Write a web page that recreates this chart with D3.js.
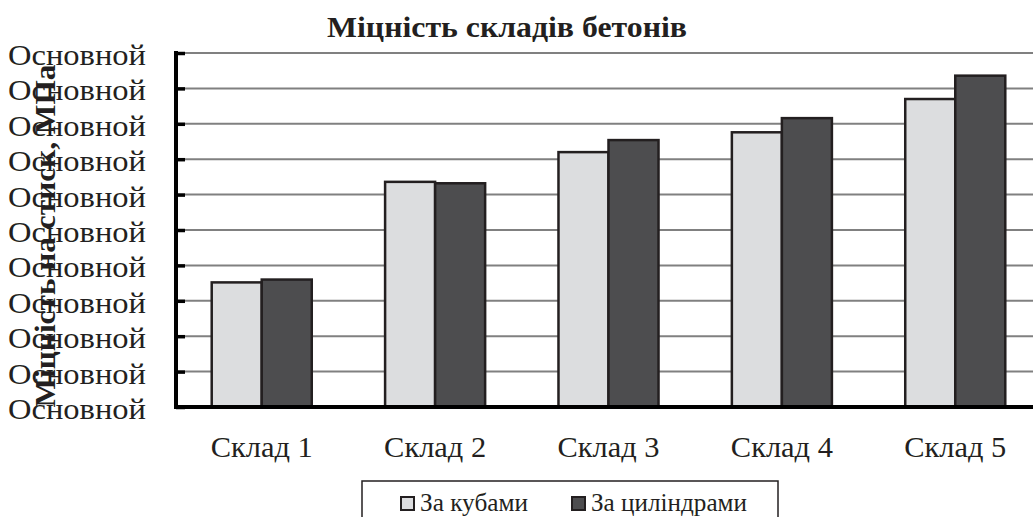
<!DOCTYPE html>
<html>
<head>
    <meta charset="utf-8">
    <title>Міцність складів бетонів</title>
    <script src="https://cdn.jsdelivr.net/npm/d3@7"></script>
    <style>
        body {
            margin: 0;
            padding: 0;
            background-color: white;
            overflow: hidden;
        }

        svg text {
            font-family: "Liberation Serif", "Times New Roman", serif;
            fill: #231f20;
        }

        .title {
            font-size: 30px;
            font-weight: bold;
        }

        .axis-label {
            font-size: 30px;
            font-weight: bold;
        }

        .tick-label {
            font-size: 29px;
        }

        .cat-label {
            font-size: 29px;
        }

        .legend-text {
            font-size: 25px;
        }
    </style>
</head>
<body>
    <div id="chart"></div>

    <script>
        const categories = ["Склад 1", "Склад 2", "Склад 3", "Склад 4", "Склад 5"];
        const seriesNames = ["За кубами", "За циліндрами"];
        const cubes = [17.6, 31.8, 36.0, 38.8, 43.5];
        const cylinders = [18.0, 31.6, 37.7, 40.8, 46.8];
        const yTicks = [0, 5, 10, 15, 20, 25, 30, 35, 40, 45, 50];
        const tickText = "Основной";
        const colors = ["#dcdddf", "#4d4d4f"];

        const width = 1033;
        const height = 517;
        const plotLeft = 176, plotTop = 53, plotBottom = 407;

        const svg = d3.select("#chart")
            .append("svg")
            .attr("width", width)
            .attr("height", height);

        const x = d3.scaleBand()
            .domain(categories)
            .range([plotLeft, 1041])
            .paddingInner(0.423)
            .paddingOuter(0.206);

        const xSub = d3.scaleBand()
            .domain(seriesNames)
            .range([0, x.bandwidth()]);

        const y = d3.scaleLinear()
            .domain([0, 50])
            .range([plotBottom, plotTop]);

        // gridlines
        svg.append("g")
            .selectAll("line")
            .data(yTicks.slice(1))
            .enter()
            .append("line")
            .attr("x1", plotLeft)
            .attr("x2", width)
            .attr("y1", d => y(d))
            .attr("y2", d => y(d))
            .style("stroke", "#808080")
            .style("stroke-width", "2px");

        // bars
        const rows = categories.map((c, i) => ({ cat: c, values: [cubes[i], cylinders[i]] }));

        svg.append("g")
            .selectAll("g")
            .data(rows)
            .enter()
            .append("g")
            .attr("transform", d => `translate(${x(d.cat)},0)`)
            .selectAll("rect")
            .data(d => d.values.map((v, j) => ({ name: seriesNames[j], value: v, j: j })))
            .enter()
            .append("rect")
            .attr("x", d => xSub(d.name))
            .attr("y", d => y(d.value))
            .attr("width", xSub.bandwidth())
            .attr("height", d => plotBottom - y(d.value))
            .attr("fill", d => colors[d.j])
            .style("stroke", "#231f20")
            .style("stroke-width", "2.5px");

        // y axis
        const yAxis = d3.axisRight(y)
            .tickValues(yTicks)
            .tickSize(9)
            .tickFormat("");

        const yg = svg.append("g")
            .attr("transform", `translate(${plotLeft},0)`)
            .call(yAxis);
        yg.select(".domain").remove();
        yg.selectAll(".tick line")
            .style("stroke", "#000")
            .style("stroke-width", "3.5px");

        svg.append("line")
            .attr("x1", plotLeft)
            .attr("x2", plotLeft)
            .attr("y1", plotTop - 2)
            .attr("y2", plotBottom + 2)
            .style("stroke", "#000")
            .style("stroke-width", "4px");

        svg.append("g")
            .selectAll("text")
            .data(yTicks)
            .enter()
            .append("text")
            .attr("class", "tick-label")
            .attr("x", 146)
            .attr("y", d => y(d) + 12)
            .attr("textLength", 138)
            .attr("lengthAdjust", "spacingAndGlyphs")
            .style("text-anchor", "end")
            .text(tickText);

        // x axis
        const xAxis = d3.axisBottom(x).tickSize(0).tickFormat("");
        const xg = svg.append("g")
            .attr("transform", `translate(0,${plotBottom})`)
            .call(xAxis);
        xg.select(".domain").remove();

        svg.append("line")
            .attr("x1", plotLeft - 2)
            .attr("x2", width)
            .attr("y1", plotBottom)
            .attr("y2", plotBottom)
            .style("stroke", "#000")
            .style("stroke-width", "4px");

        svg.append("g")
            .selectAll("text")
            .data(categories)
            .enter()
            .append("text")
            .attr("class", "cat-label")
            .attr("x", d => x(d) + x.bandwidth() / 2)
            .attr("y", 457)
            .attr("textLength", 102)
            .attr("lengthAdjust", "spacingAndGlyphs")
            .style("text-anchor", "middle")
            .text(d => d);

        // title
        svg.append("text")
            .attr("class", "title")
            .attr("x", 507)
            .attr("y", 37)
            .attr("textLength", 360)
            .attr("lengthAdjust", "spacingAndGlyphs")
            .style("text-anchor", "middle")
            .text("Міцність складів бетонів");

        // y axis title
        svg.append("text")
            .attr("class", "axis-label")
            .attr("transform", "translate(55,236) rotate(-90)")
            .attr("textLength", 343)
            .attr("lengthAdjust", "spacingAndGlyphs")
            .style("text-anchor", "middle")
            .text("Міцність на стиск, МПа");

        // legend
        const legend = svg.append("g");
        legend.append("rect")
            .attr("x", 362)
            .attr("y", 481)
            .attr("width", 416)
            .attr("height", 60)
            .attr("fill", "white")
            .style("stroke", "#231f20")
            .style("stroke-width", "1.5px");

        const legendX = [401, 572];
        const legendLen = [108, 156];
        const items = legend.selectAll(".item")
            .data(seriesNames)
            .enter()
            .append("g")
            .attr("class", "item")
            .attr("transform", (d, i) => `translate(${legendX[i]},497)`);

        items.append("rect")
            .attr("width", 13)
            .attr("height", 13)
            .attr("fill", (d, i) => colors[i])
            .style("stroke", "#231f20")
            .style("stroke-width", "2px");

        items.append("text")
            .attr("class", "legend-text")
            .attr("x", 19)
            .attr("y", 14)
            .attr("textLength", (d, i) => legendLen[i])
            .attr("lengthAdjust", "spacingAndGlyphs")
            .text(d => d);
    </script>
</body>
</html>
